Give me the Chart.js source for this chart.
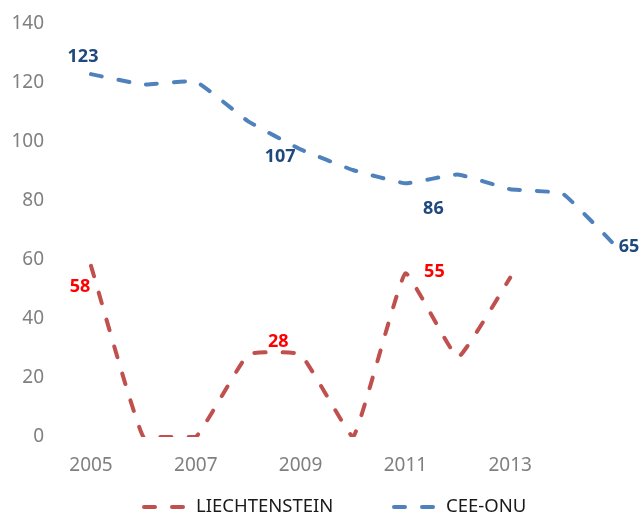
<!DOCTYPE html>
<html>
<head>
<meta charset="utf-8">
<script src="https://cdn.jsdelivr.net/npm/chart.js@4.4.0/dist/chart.umd.min.js"></script>
<style>
  html, body { margin: 0; padding: 0; background: #fff; }
  #wrap { width: 642px; height: 515px; position: relative; }
</style>
</head>
<body>
<div id="wrap"><canvas id="grafico"></canvas></div>
<script>
// datos
var anios = ["2005", "2006", "2007", "2008", "2009", "2010", "2011", "2012", "2013", "2014", "2015"];
var liechtenstein = [58, 0, 0, 28, 28, 0, 55.5, 27, 54, null, null];
var ceeOnu = [123, 119.5, 120.5, 107, 97.5, 90.5, 86, 89, 84, 82.5, 65];
var ticksY = [0, 20, 40, 60, 80, 100, 120, 140];

// etiquetas de datos: serie, indice, texto, desplazamiento
var etiquetas = [
  { serie: 1, idx: 0, txt: "123", dx: -8, dy: -17, color: "#1F497D" },
  { serie: 1, idx: 3, txt: "107", dx: 32, dy: 36, color: "#1F497D" },
  { serie: 1, idx: 6, txt: "86", dx: 28, dy: 26, color: "#1F497D" },
  { serie: 1, idx: 10, txt: "65", dx: 14, dy: 2, color: "#1F497D" },
  { serie: 0, idx: 0, txt: "58", dx: -11, dy: 21, color: "#FF0000" },
  { serie: 0, idx: 3, txt: "28", dx: 30, dy: -13, color: "#FF0000" },
  { serie: 0, idx: 6, txt: "55", dx: 29, dy: -1, color: "#FF0000" }
];

var pluginEtiquetas = {
  id: "etiquetas",
  afterDatasetsDraw: function (chart) {
    var ctx = chart.ctx;
    ctx.save();
    ctx.font = "bold 18px 'Noto Sans'";
    ctx.textAlign = "center";
    ctx.textBaseline = "middle";
    etiquetas.forEach(function (e) {
      var p = chart.getDatasetMeta(e.serie).data[e.idx];
      ctx.fillStyle = e.color;
      ctx.fillText(e.txt, p.x + e.dx, p.y + e.dy);
    });
    ctx.restore();
  }
};

// leyenda dibujada a mano
var leyendaX = [142, 392];
var pluginLeyenda = {
  id: "leyendaManual",
  afterDraw: function (chart) {
    var ctx = chart.ctx;
    var y = 507;
    ctx.save();
    ctx.font = "18.5px 'Noto Sans'";
    ctx.textBaseline = "middle";
    ctx.textAlign = "left";
    chart.data.datasets.forEach(function (ds, i) {
      var x = leyendaX[i];
      ctx.strokeStyle = ds.borderColor;
      ctx.lineWidth = 4;
      ctx.lineCap = "round";
      ctx.setLineDash(ds.borderDash);
      ctx.beginPath();
      ctx.moveTo(x + 2, y);
      ctx.lineTo(x + 41, y);
      ctx.stroke();
      ctx.setLineDash([]);
      ctx.fillStyle = "#1a1a1a";
      ctx.fillText(ds.label, x + 54, y);
    });
    ctx.restore();
  }
};

var ctx = document.getElementById("grafico").getContext("2d");
var grafico = new Chart(ctx, {
  type: "line",
  data: {
    labels: anios,
    datasets: [
      {
        label: "LIECHTENSTEIN",
        data: liechtenstein,
        borderColor: "#C0504D",
        backgroundColor: "#C0504D",
        borderWidth: 4,
        borderDash: [11, 17],
        borderCapStyle: "round",
        borderJoinStyle: "round",
        pointRadius: 0,
        tension: 0.1,
        spanGaps: false
      },
      {
        label: "CEE-ONU",
        data: ceeOnu,
        borderColor: "#4F81BD",
        backgroundColor: "#4F81BD",
        borderWidth: 4,
        borderDash: [11, 17],
        borderCapStyle: "round",
        borderJoinStyle: "round",
        pointRadius: 0,
        tension: 0.1
      }
    ]
  },
  options: {
    responsive: true,
    maintainAspectRatio: false,
    animation: false,
    layout: { padding: { top: 24, right: 27, left: 0, bottom: 33 } },
    scales: {
      x: {
        offset: false,
        grid: { display: false, drawTicks: false },
        border: { display: false },
        ticks: {
          color: "#808080",
          font: { family: "'Noto Sans'", size: 19 },
          padding: 17,
          maxRotation: 0,
          autoSkip: false,
          callback: function (v, i) { return i % 2 == 0 && i < 10 ? anios[i] : ""; }
        },
        afterFit: function (s) { s.height = 45; s.paddingLeft = 0; s.paddingRight = 0; }
      },
      y: {
        min: 0,
        max: 140,
        afterBuildTicks: function (s) { s.ticks = ticksY.map(function (v) { return { value: v }; }); },
        grid: { display: false, drawTicks: false },
        border: { display: false },
        ticks: {
          color: "#808080",
          font: { family: "'Noto Sans'", size: 19 },
          padding: 47
        },
        afterFit: function (s) { s.width = 91; s.paddingTop = 0; s.paddingBottom = 0; }
      }
    },
    plugins: {
      legend: { display: false },
      tooltip: { enabled: false }
    }
  },
  plugins: [pluginEtiquetas, pluginLeyenda]
});
</script>
</body>
</html>
